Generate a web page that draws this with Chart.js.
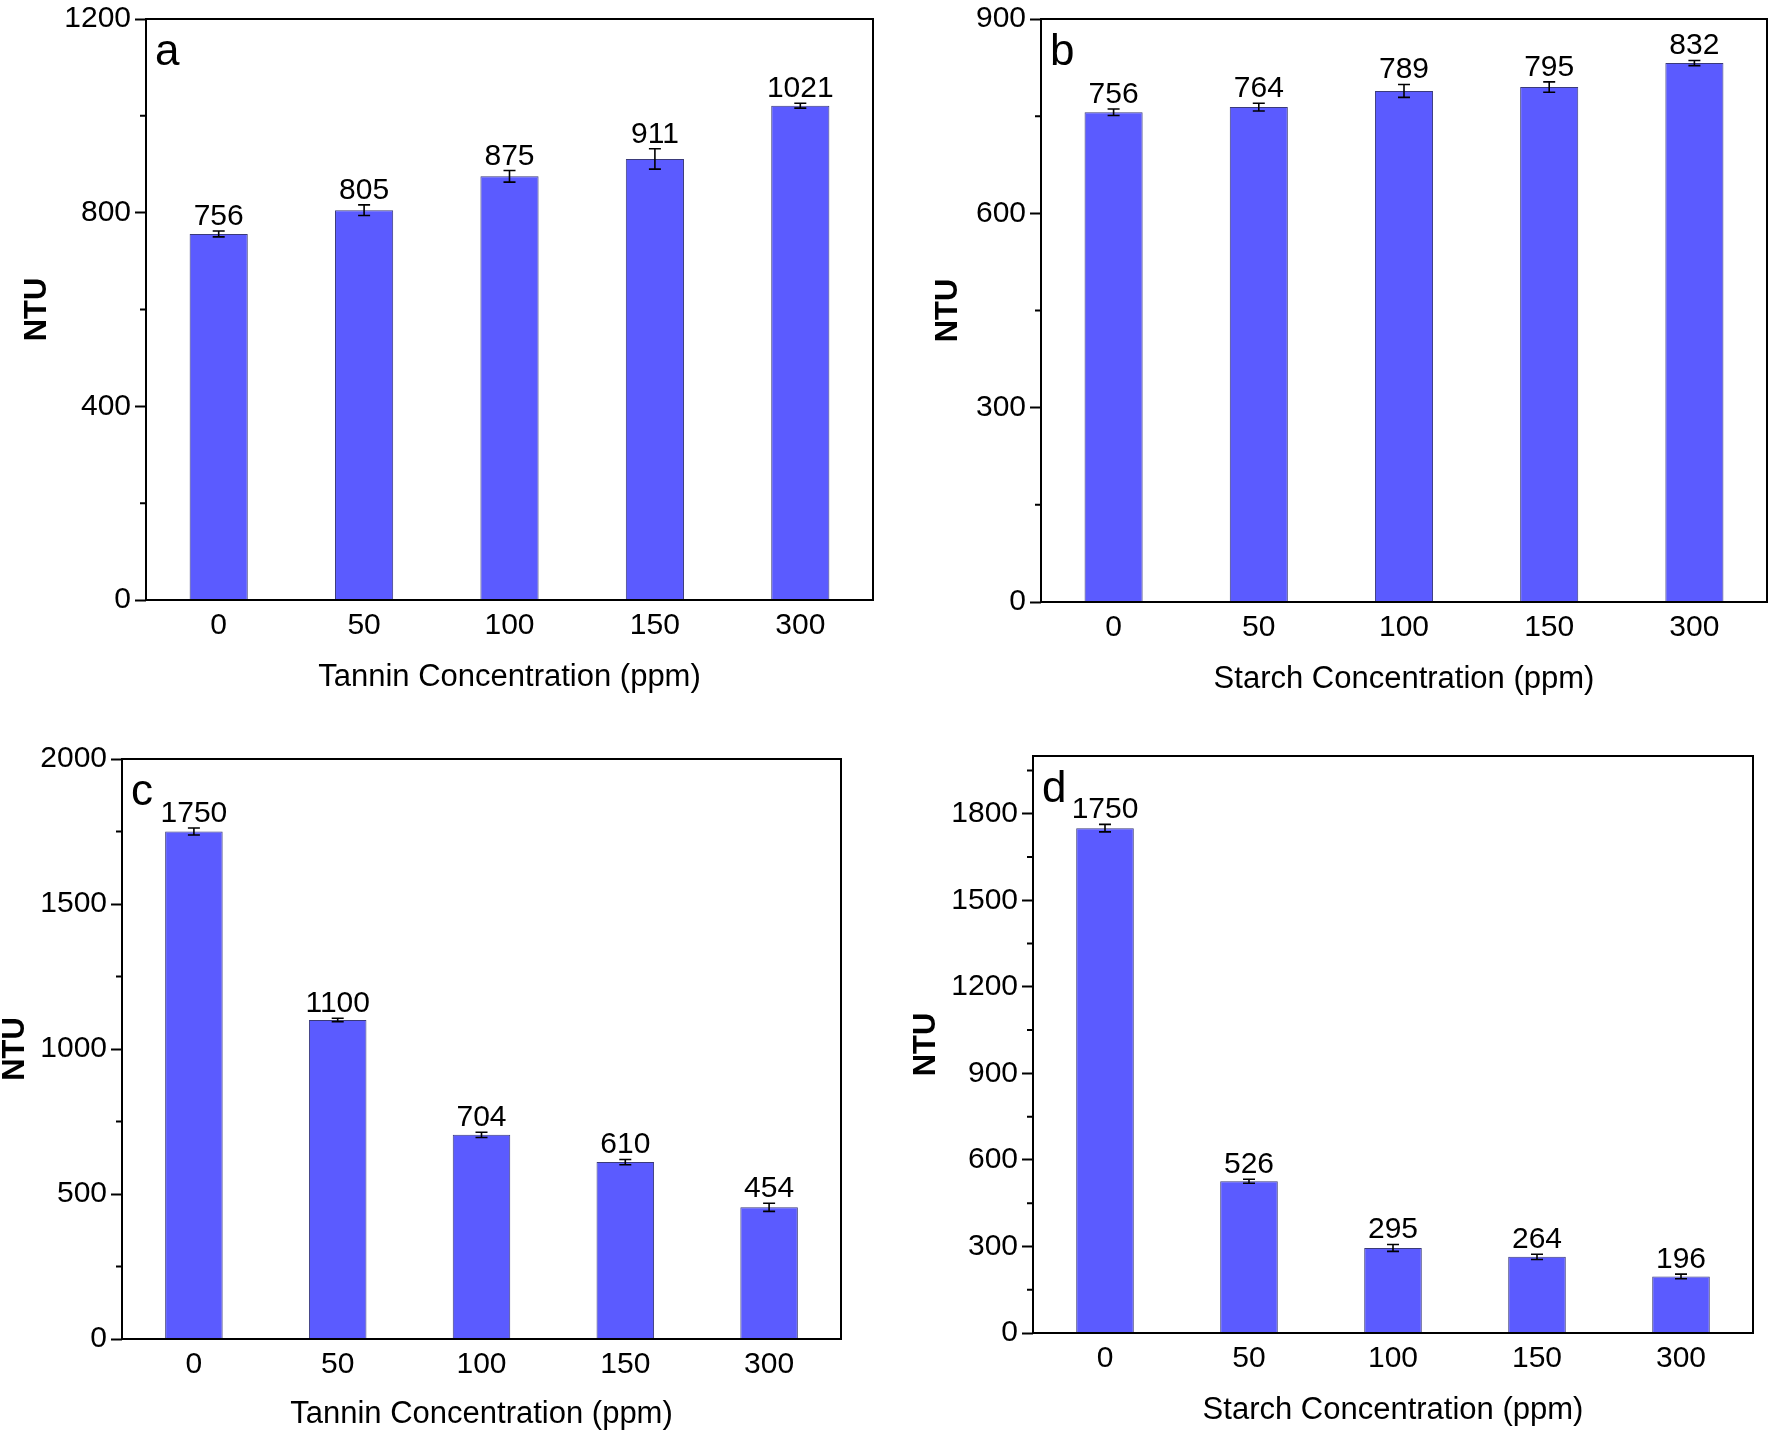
<!DOCTYPE html>
<html><head><meta charset="utf-8">
<script src="https://cdn.jsdelivr.net/npm/chart.js@4.4.1/dist/chart.umd.min.js"></script>
<style>
html,body{margin:0;padding:0;background:#fff;width:1770px;height:1432px;overflow:hidden}
canvas{position:absolute;left:0;top:0}
</style></head><body>
<canvas id="ca" width="1770" height="1432"></canvas>
<canvas id="cb" width="1770" height="1432"></canvas>
<canvas id="cc" width="1770" height="1432"></canvas>
<canvas id="cd" width="1770" height="1432"></canvas>
<script>
// ---- data ----
const categories = ['0', '50', '100', '150', '300'];
const tanninNTU_a = [756, 805, 875, 911, 1021];
const tanninErr_a = [6, 11, 12, 21, 5];
const starchNTU_b = [756, 764, 789, 795, 832];
const starchErr_b = [5, 6, 10, 8, 4];
const tanninNTU_c = [1750, 1100, 704, 610, 454];
const tanninErr_c = [12, 6, 9, 9, 14];
const starchNTU_d = [1750, 526, 295, 264, 196];
const starchErr_d = [13, 7, 12, 9, 8];
const yMajor_a = [0, 400, 800, 1200];
const yMinor_a = [200, 600, 1000];
const yMajor_b = [0, 300, 600, 900];
const yMinor_b = [150, 450, 750];
const yMajor_c = [0, 500, 1000, 1500, 2000];
const yMinor_c = [250, 750, 1250, 1750];
const yMajor_d = [0, 300, 600, 900, 1200, 1500, 1800];
const yMinor_d = [150, 450, 750, 1050, 1350, 1650, 1950];
const xTitleTannin = 'Tannin Concentration (ppm)';
const xTitleStarch = 'Starch Concentration (ppm)';
const yTitle = 'NTU';

// ---- layout / style ----
const W = 1770, H = 1432;
const FONT = "'Liberation Sans', Arial, sans-serif";
const BAR = '#5b5bff';
const XH = 100; // x-axis box height
const TICK_FS = 30, TITLE_FS = 31, VAL_FS = 30;

const panels = [
  {id:'ca', letter:'a', data:tanninNTU_a, err:tanninErr_a, max:1200, major:yMajor_a, minor:yMinor_a, xt:xTitleTannin,
   box:{l:146,t:15,r:873,b:600}, yTitleX:37, xTitleY:677},
  {id:'cb', letter:'b', data:starchNTU_b, err:starchErr_b, max:900, major:yMajor_b, minor:yMinor_b, xt:xTitleStarch,
   box:{l:1041,t:17,r:1767,b:602}, yTitleX:948, xTitleY:679},
  {id:'cc', letter:'c', data:tanninNTU_c, err:tanninErr_c, max:2000, major:yMajor_c, minor:yMinor_c, xt:xTitleTannin,
   box:{l:122,t:759,r:841,b:1339}, yTitleX:15, xTitleY:1414},
  {id:'cd', letter:'d', data:starchNTU_d, err:starchErr_d, max:2000, major:yMajor_d, minor:yMinor_d, xt:xTitleStarch,
   box:{l:1033,t:756,r:1753,b:1333}, yTitleX:926, xTitleY:1410}
];

function decoPlugin(p){
  return {
    id:'deco_'+p.letter,
    afterDraw(chart){
      const ctx = chart.ctx, ca = chart.chartArea, ys = chart.scales.y;
      const meta = chart.getDatasetMeta(0);
      ctx.save();
      // error bars
      ctx.strokeStyle = '#000'; ctx.lineWidth = 1.6;
      p.data.forEach((v,i)=>{
        const x = meta.data[i].x;
        const yt = ys.getPixelForValue(v + p.err[i]);
        const yb = ys.getPixelForValue(v - p.err[i]);
        ctx.beginPath();
        ctx.moveTo(x, yt); ctx.lineTo(x, yb);
        ctx.moveTo(x-6, yt); ctx.lineTo(x+6, yt);
        ctx.moveTo(x-6, yb); ctx.lineTo(x+6, yb);
        ctx.stroke();
      });
      // value labels
      ctx.fillStyle = '#000';
      ctx.font = VAL_FS + 'px ' + FONT;
      ctx.textAlign = 'center'; ctx.textBaseline = 'alphabetic';
      p.data.forEach((v,i)=>{
        const x = meta.data[i].x;
        const yt = ys.getPixelForValue(v + p.err[i]);
        ctx.fillText(String(v), x, yt - 6);
      });
      // minor ticks
      ctx.lineWidth = 2;
      ctx.beginPath();
      p.minor.forEach(m=>{
        const y = ys.getPixelForValue(m);
        ctx.moveTo(ca.left - 6, y); ctx.lineTo(ca.left, y);
      });
      ctx.stroke();
      // frame
      ctx.lineWidth = 2;
      ctx.strokeRect(ca.left, ca.top, ca.right - ca.left, ca.bottom - ca.top);
      // panel letter
      ctx.font = '44px ' + FONT;
      ctx.textAlign = 'left';
      ctx.fillText(p.letter, ca.left + 9, ca.top + 46);
      ctx.restore();
    }
  };
}

panels.forEach(p=>{
  const bx = p.box;
  new Chart(document.getElementById(p.id), {
    type:'bar',
    data:{ labels:categories, datasets:[{ data:p.data, backgroundColor:BAR, borderColor:'#3a3a7a', borderWidth:1,
      barPercentage:0.4, categoryPercentage:1.0 }]},
    options:{
      responsive:false, animation:false, devicePixelRatio:1,
      layout:{ padding:{ left:0, top:bx.t, right:W - bx.r, bottom:H - bx.b - XH } },
      plugins:{ legend:{display:false}, tooltip:{enabled:false} },
      scales:{
        x:{
          offset:true,
          grid:{display:false, drawTicks:false},
          border:{display:false},
          ticks:{ color:'#000', font:{family:FONT, size:TICK_FS, lineHeight:1}, padding:11, maxRotation:0 },
          title:{ display:true, text:p.xt, color:'#000', font:{family:FONT, size:TITLE_FS, lineHeight:1},
                  padding:{top:0, bottom: bx.b + XH - p.xTitleY - TITLE_FS/2} },
          afterFit(s){ s.height = XH; }
        },
        y:{
          min:0, max:p.max,
          afterBuildTicks(s){ s.ticks = p.major.map(v=>({value:v})); },
          grid:{ display:true, drawOnChartArea:false, drawTicks:true, tickLength:11, tickWidth:2, tickColor:'#000' },
          border:{display:false},
          ticks:{ color:'#000', font:{family:FONT, size:TICK_FS, lineHeight:1}, padding:4,
                  callback:(v)=>String(v) },
          title:{ display:true, text:yTitle, color:'#000', font:{family:FONT, size:TITLE_FS, weight:'bold', lineHeight:1},
                  padding:{top: p.yTitleX - TITLE_FS/2, bottom:0} },
          afterFit(s){ s.width = bx.l; }
        }
      }
    },
    plugins:[decoPlugin(p)]
  });
});
</script>
</body></html>
